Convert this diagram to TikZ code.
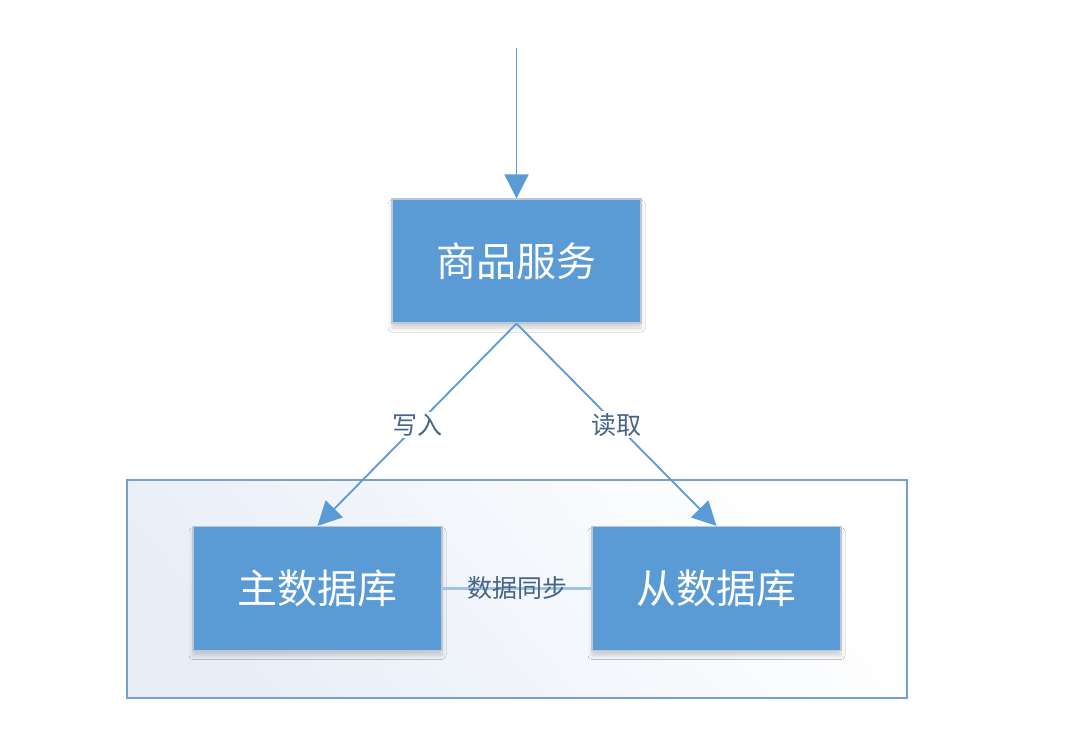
\documentclass[tikz,border=0pt]{standalone}
\usepackage{fontspec}
\newfontfamily\cjk{Noto Sans CJK SC}
\usetikzlibrary{arrows.meta,shadows.blur}
\definecolor{boxblue}{RGB}{91,155,213}
\definecolor{boxedge}{RGB}{190,200,212}
\definecolor{linkblue}{RGB}{91,155,213}
\definecolor{synclight}{RGB}{157,195,230}
\definecolor{labeltxt}{RGB}{70,100,135}
\definecolor{framecol}{RGB}{120,160,205}
\definecolor{shadefrom}{RGB}{232,238,248}
\tikzset{
  x=1pt,y=1pt,
  box/.style={draw=boxedge, line width=1.2pt, fill=boxblue, minimum width=249pt, minimum height=124pt,
    inner sep=0pt, text=white, font=\cjk\fontsize{40}{40}\selectfont,
    blur shadow={shadow xshift=0pt, shadow yshift=-5pt, shadow blur radius=4pt, shadow opacity=18}},
  link/.style={draw=linkblue, line width=1.8pt, -{Triangle[length=24pt,width=24pt]}},
  lbl/.style={fill=white, inner sep=2pt, text=labeltxt, font=\cjk\fontsize{25}{25}\selectfont},
}
\begin{document}
\begin{tikzpicture}
\useasboundingbox (0,0) rectangle (1078,-732);
\fill[white] (0,0) rectangle (1078,-732);
% container
\shade[shading=axis, left color=shadefrom, right color=white, shading angle=130]
  (127,-480) rectangle (907,-698);
\draw[framecol, line width=1.6pt] (127,-480) rectangle (907,-698);
% nodes
\node[box] (svc) at (516.5,-261) {商品服务};
\node[box] (master) at (317.5,-588.5) {主数据库};
\node[box] (slave) at (716.5,-588.5) {从数据库};
\coordinate (entry) at (516.5,-48);
% connectors
\draw[link] (entry) -- (svc.north);
\draw[link] (svc.south) -- node[lbl, pos=0.5] {写入} (master.north);
\draw[link] (svc.south) -- node[lbl, pos=0.5] {读取} (slave.north);
\draw[synclight, line width=3pt] (master.east) -- node[lbl, inner sep=1pt, fill=none] {数据同步} (slave.west);
\end{tikzpicture}
\end{document}
